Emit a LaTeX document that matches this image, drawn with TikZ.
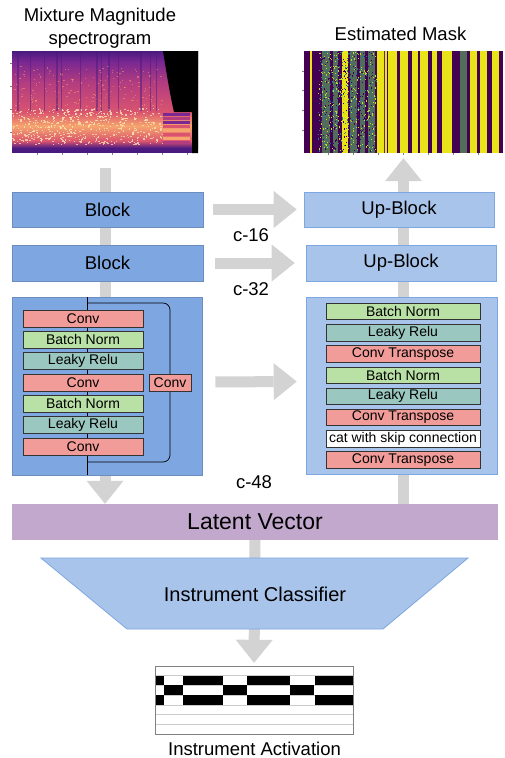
\documentclass[tikz,border=0pt]{standalone}
\usepackage{fontspec}
\setmainfont{Liberation Sans}
\usetikzlibrary{arrows.meta}
\definecolor{blockblue}{HTML}{7EA6E0}
\definecolor{blockedge}{HTML}{6C8EBF}
\definecolor{upblue}{HTML}{A9C4EB}
\definecolor{upedge}{HTML}{7EA6E0}
\definecolor{convred}{HTML}{F19C99}
\definecolor{bngreen}{HTML}{B9E0A5}
\definecolor{lrteal}{HTML}{9AC7BF}
\definecolor{latpurple}{HTML}{C3A8CE}
\definecolor{arrowgray}{HTML}{D3D3D3}
\definecolor{vdark}{HTML}{440154}
\definecolor{vyellow}{HTML}{E8E419}
\definecolor{vgreen}{HTML}{5EC962}
\definecolor{vteal}{HTML}{2A788E}
\definecolor{mpurple}{HTML}{4A1A80}
\definecolor{mviolet}{HTML}{7A2892}
\definecolor{mmagenta}{HTML}{B23C80}
\definecolor{mred}{HTML}{DA5470}
\definecolor{morange}{HTML}{F6A56E}
\definecolor{mcream}{HTML}{FDE6B4}
\newcommand\myfbig{\fontsize{18.5}{22}\selectfont}
\newcommand\myfsmall{\fontsize{14}{16}\selectfont}
\newcommand\myflat{\fontsize{23}{26}\selectfont}
\newcommand\myfcls{\fontsize{20}{24}\selectfont}
\tikzset{
  garrow/.style={draw=arrowgray, line width=11pt,
    -{Triangle[length=23pt,width=37pt,line width=0pt]}},
  blk/.style={draw=blockedge, fill=blockblue, line width=0.6pt,
    minimum width=191pt, minimum height=35pt, inner sep=0pt, font=\myfbig},
  upblk/.style={draw=upedge, fill=upblue, line width=0.6pt,
    minimum width=190pt, minimum height=35pt, inner sep=0pt, font=\myfbig},
  layer/.style={draw=black!80, line width=0.7pt, inner sep=0pt,
    minimum height=17pt, font=\myfsmall},
  llayer/.style={layer, minimum width=120pt},
  rlayer/.style={layer, minimum width=154pt, minimum height=16.5pt},
  lbl/.style={anchor=base, font=\myfbig, inner sep=0pt},
  imgbox/.style={minimum width=#1, inner sep=0pt, draw=none},
}
\begin{document}
\begin{tikzpicture}[x=1pt,y=-1pt]
\useasboundingbox (0,0) rectangle (505,758);
\fill[white] (0,0) rectangle (505,758);

% ---------- spectrogram ----------
\shade[top color=mpurple, bottom color=mviolet] (12,51) rectangle (198,62);
\shade[top color=mviolet, bottom color=mmagenta] (12,62) rectangle (198,82);
\shade[top color=mmagenta, bottom color=mred] (12,82) rectangle (198,112);
\shade[top color=mred, bottom color=morange] (12,112) rectangle (198,126);
\shade[top color=morange, bottom color=mred] (12,126) rectangle (198,141);
\shade[top color=mred, bottom color=mpurple] (12,141) rectangle (198,148);
\fill[mpurple] (12,148) rectangle (198,153);
\pgfmathsetseed{7}
\foreach \i in {1,...,520}{
  \pgfmathsetmacro\xx{12+150*rnd}
  \pgfmathsetmacro\yy{108+36*rnd}
  \fill[mcream, opacity=0.75] (\xx,\yy) rectangle ++(1.5,1.2);
}
\foreach \i in {1,...,160}{
  \pgfmathsetmacro\xx{12+150*rnd}
  \pgfmathsetmacro\yy{66+40*rnd}
  \fill[morange, opacity=0.5] (\xx,\yy) rectangle ++(1.4,1.1);
}
\foreach \xx/\w in {17/1.5,30/1,44/1,56/1.5,61/1,80/1.2,96/1.5,101/1,108/1.5,118/1,140/1.5,150/1,156/1}{
  \fill[mpurple, opacity=0.5] (\xx,51) rectangle ++(\w,60);
}
\fill[black] (163,51) -- (198,51) -- (198,153) -- (192,153) -- (192,112)
  -- (174,112) .. controls (170,95) and (166,70) .. (163,51) -- cycle;
\foreach \yy/\c in {113/mviolet,117/mmagenta,121/mviolet,125/mred,129/morange,133/mred,137/morange,141/mmagenta}{
  \fill[\c] (163,\yy) rectangle (190,\yy+2.5);
}
\foreach \yy in {63,86,109,132}{\draw[gray, line width=0.4pt] (10,\yy) -- (12,\yy);}
\foreach \xx in {37,62,87,112,137,162,187}{\draw[gray, line width=0.4pt] (\xx,153) -- (\xx,155);}
\node[imgbox=186pt, minimum height=102pt] (spec) at (105,102) {};

% ---------- estimated mask ----------
\fill[vdark] (304,51) rectangle (503,153);
\foreach \a/\b in {322/330,333/338,350/357,360/365,368/375,460/467}{
  \fill[vgreen, opacity=0.55] (\a,51) rectangle (\b,153);
}
\foreach \a/\b in {310/312,342/348,377/387,388/397,400/408,412/418,420/428,432/437,
  442/452,470/477,480/487,492/499}{
  \fill[vyellow] (\a,51) rectangle (\b,153);
}
\pgfmathsetseed{11}
\foreach \i in {1,...,900}{
  \pgfmathsetmacro\xx{318+58*rnd}
  \pgfmathsetmacro\yy{51+100*rnd}
  \pgfmathtruncatemacro\k{mod(\i,3)}
  \ifnum\k=0 \fill[vdark] (\xx,\yy) rectangle ++(1,1.2);
  \else\ifnum\k=1 \fill[vteal] (\xx,\yy) rectangle ++(1,1.2);
  \else \fill[vyellow!70!vgreen] (\xx,\yy) rectangle ++(1,1.2);\fi\fi
}
\foreach \xx in {384,398,409,419,431,459,478,490}{
  \fill[vdark, opacity=0.8] (\xx,51) rectangle ++(1.2,102);
}
\foreach \yy in {71,90,110,130}{\draw[gray, line width=0.4pt] (302,\yy) -- (304,\yy);}
\foreach \xx in {328,353,378,403,428,453,478}{\draw[gray, line width=0.4pt] (\xx,153) -- (\xx,155);}
\node[imgbox=199pt, minimum height=102pt] (mask) at (403.5,102) {};

% ---------- titles ----------
\node[lbl] (t1) at (100,21.5) {Mixture Magnitude};
\node[lbl] (t2) at (100,44) {spectrogram};
\node[lbl] (t3) at (400.5,40) {Estimated Mask};

% ---------- nodes (positions) ----------
\node[draw=blockedge, fill=blockblue, line width=0.6pt, minimum width=190pt,
  minimum height=178pt, inner sep=0pt] (lbig) at (107,386) {};
\node[draw=upedge, fill=upblue, line width=0.6pt, minimum width=191pt,
  minimum height=177pt, inner sep=0pt] (rbig) at (401.5,385.5) {};
\node[fill=latpurple, minimum width=486pt, minimum height=36pt, inner sep=0pt,
  font=\myflat] (lat) at (255,522) {Latent Vector};
\node[inner sep=0pt, minimum width=198pt, minimum height=68pt] (act) at (254,700) {};

% ---------- gray arrows (behind) ----------
\draw[garrow, shorten <=15pt] (spec.south) -- (spec.south |- lat.north);
\draw[garrow, shorten >=5pt] (mask.south |- lat.north) -- (mask.south);
\draw[garrow, shorten >=3pt] (lat.south) -- (act.north);

% redraw big boxes over vertical arrow
\node[draw=blockedge, fill=blockblue, line width=0.6pt, minimum width=190pt,
  minimum height=178pt, inner sep=0pt] (lbigb) at (107,386) {};
\node[draw=upedge, fill=upblue, line width=0.6pt, minimum width=191pt,
  minimum height=177pt, inner sep=0pt] (rbigb) at (401.5,385.5) {};
\node[fill=latpurple, minimum width=486pt, minimum height=36pt, inner sep=0pt,
  font=\myflat] (latb) at (255,522) {Latent Vector};

\node[blk] (b1) at (107.5,209.5) {Block};
\node[blk, minimum height=36pt] (b2) at (107.5,263) {Block};
\node[upblk] (u1) at (399,209.5) {Up-Block};
\node[upblk, minimum height=36pt] (u2) at (401,263) {Up-Block};

\draw[garrow, shorten <=10pt, shorten >=7pt] (b1.east) -- (u1.west);
\draw[garrow, shorten <=12pt, shorten >=11pt] (b2.east) -- (u2.west);
\draw[garrow, shorten <=13pt, shorten >=9pt] ([yshift=4pt]lbigb.east) -- ([yshift=4pt]rbigb.west);

\node[lbl] (c16) at (251,241) {c-16};
\node[lbl] (c32) at (251,295) {c-32};
\node[lbl] (c48) at (254,488) {c-48};

% ---------- encoder block internals ----------
\coordinate (ltop) at (87,297);
\coordinate (lbot) at (87,475);
\draw[black, line width=0.7pt] (ltop) -- (lbot);
\coordinate (sk1) at (87,303);
\coordinate (sk2) at (170,303);
\coordinate (sk3) at (170,462);
\coordinate (sk4) at (87,462);
\draw[black, line width=0.7pt, rounded corners=7pt] (sk1) -- (sk2) -- (sk3) -- (sk4);
\node[llayer, fill=convred] (l1) at (83,318.5) {Conv};
\node[llayer, fill=bngreen] (l2) at (83,339.8) {Batch Norm};
\node[llayer, fill=lrteal] (l3) at (83,361.1) {Leaky Relu};
\node[llayer, fill=convred] (l4) at (83,382.4) {Conv};
\node[llayer, fill=bngreen] (l5) at (83,403.7) {Batch Norm};
\node[llayer, fill=lrteal] (l6) at (83,425) {Leaky Relu};
\node[llayer, fill=convred] (l7) at (83,446.5) {Conv};
\node[layer, fill=convred, minimum width=42pt] (lside) at (170,382.5) {Conv};

% ---------- decoder block internals ----------
\node[rlayer, fill=bngreen] (r1) at (403,311.5) {Batch Norm};
\node[rlayer, fill=lrteal] (r2) at (403,332.7) {Leaky Relu};
\node[rlayer, fill=convred] (r3) at (403,353.9) {Conv Transpose};
\node[rlayer, fill=bngreen] (r4) at (403,375.1) {Batch Norm};
\node[rlayer, fill=lrteal] (r5) at (403,396.3) {Leaky Relu};
\node[rlayer, fill=convred] (r6) at (403,417.5) {Conv Transpose};
\node[rlayer, fill=white] (r7) at (403,438.7) {cat with skip connection};
\node[rlayer, fill=convred] (r8) at (403,460) {Conv Transpose};

% ---------- classifier ----------
\fill[upblue] (41,558) -- (468,558) -- (383,629) -- (127,629) -- cycle;
\draw[upedge, line width=0.8pt] (41,558) -- (468,558) -- (383,629) -- (127,629) -- cycle;
\node[font=\myfcls, inner sep=0pt] (cls) at (255,594) {Instrument Classifier};

% ---------- activation ----------
\foreach \r in {1,...,6}{
  \draw[black!20, line width=0.5pt] (155,666+9.714*\r) -- (353,666+9.714*\r);
}
\foreach \a/\b in {155/163.5,183/222.5,247/270.5,271/289.5,315/335.5,336/353}{
  \fill[black] (\a,675.7) rectangle (\b,685.4);
  \fill[black] (\a,695.1) rectangle (\b,704.9);
}
\foreach \a/\b in {164/182.5,223/246.5,290/313.5}{
  \fill[black] (\a,685.4) rectangle (\b,695.1);
}
\draw[black!50, line width=0.6pt] (act.north west) rectangle (act.south east);
\node[lbl] (actl) at (254.5,755) {Instrument Activation};
\end{tikzpicture}
\end{document}
